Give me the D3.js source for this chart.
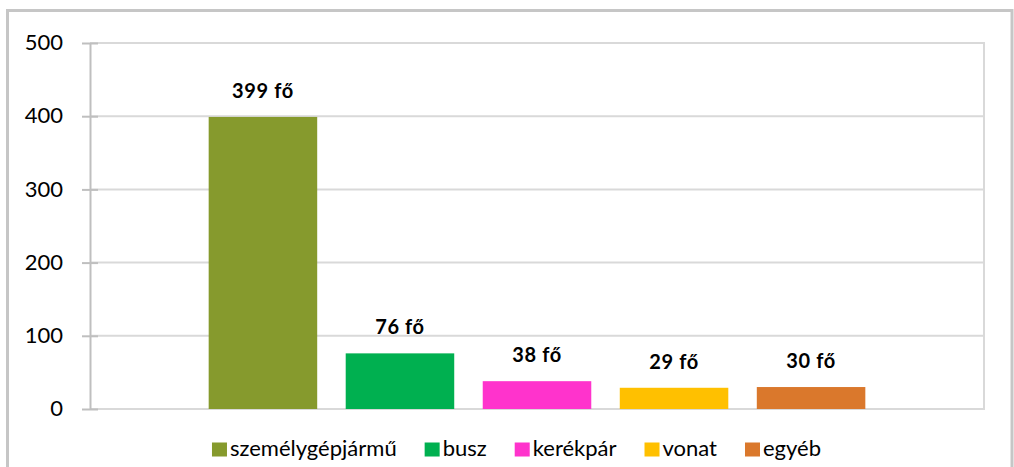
<!DOCTYPE html>
<html lang="hu">
<head>
    <meta charset="UTF-8">
    <title>Közlekedési mód</title>
    <script src="https://d3js.org/d3.v7.min.js"></script>
    <style>
        body { margin: 0; background: #fff; }
        svg { display: block; font-family: Lato, "Open Sans", sans-serif; }
    </style>
</head>
<body>
    <div id="chart"></div>
    <script>
        const modes = ["személygépjármű", "busz", "kerékpár", "vonat", "egyéb"];
        const people = [399, 76, 38, 29, 30];
        const colors = ["#869a2d", "#00b050", "#ff33cc", "#ffc000", "#da782c"];
        const yTicks = [0, 100, 200, 300, 400, 500];

        const width = 1014, height = 467;
        const plot = { left: 90, top: 43, right: 984, bottom: 409 };

        const svg = d3.select("#chart")
            .append("svg")
            .attr("width", width)
            .attr("height", height);

        svg.append("rect")
            .attr("width", width).attr("height", height)
            .attr("fill", "#fff");

        // outer chart border (bottom edge falls outside the picture)
        svg.append("rect")
            .attr("x", 7.5).attr("y", 10.5)
            .attr("width", 1004.5).attr("height", 480)
            .attr("fill", "none")
            .attr("stroke", "#c6c6c6")
            .attr("stroke-width", 3);

        const x = d3.scaleBand()
            .domain(modes)
            .range([plot.left, plot.right])
            .paddingInner(0.208)
            .paddingOuter(0.866);

        const y = d3.scaleLinear()
            .domain([0, 500])
            .range([plot.bottom, plot.top]);

        // gridlines
        svg.append("g")
            .selectAll("line")
            .data(yTicks)
            .join("line")
            .attr("x1", plot.left).attr("x2", plot.right)
            .attr("y1", d => y(d)).attr("y2", d => y(d))
            .attr("stroke", "#d9d9d9")
            .attr("stroke-width", 2);

        // right edge of plot area
        svg.append("line")
            .attr("x1", plot.right).attr("x2", plot.right)
            .attr("y1", plot.top - 1).attr("y2", plot.bottom + 1)
            .attr("stroke", "#d9d9d9")
            .attr("stroke-width", 2);

        // bars
        svg.append("g")
            .selectAll("rect")
            .data(modes)
            .join("rect")
            .attr("x", d => x(d))
            .attr("width", x.bandwidth())
            .attr("y", (d, i) => y(people[i]))
            .attr("height", (d, i) => y(0) - y(people[i]))
            .attr("fill", (d, i) => colors[i]);

        // value labels
        svg.append("g")
            .selectAll("text")
            .data(modes)
            .join("text")
            .attr("x", d => x(d) + x.bandwidth() / 2)
            .attr("y", (d, i) => y(people[i]) - 19)
            .attr("text-anchor", "middle")
            .attr("font-size", 20)
            .attr("font-weight", "bold")
            .attr("letter-spacing", 0.6)
            .attr("fill", "#000")
            .text((d, i) => people[i] + " fő");

        // y axis
        const yAxis = svg.append("g")
            .attr("transform", `translate(${plot.left},0)`)
            .call(d3.axisLeft(y).tickValues(yTicks).tickSize(0).tickPadding(27));
        yAxis.select(".domain")
            .attr("stroke", "#bfbfbf")
            .attr("stroke-width", 2);
        yAxis.selectAll(".tick text")
            .attr("font-size", 22)
            .attr("font-family", "Lato, sans-serif")
            .attr("fill", "#000")
            .attr("dy", "0.3em");
        yAxis.selectAll(".tick")
            .append("line")
            .attr("x1", -8).attr("x2", 8)
            .attr("stroke", "#bfbfbf")
            .attr("stroke-width", 2);

        // legend
        const legend = svg.append("g");
        const items = legend.selectAll("g")
            .data(modes)
            .join("g");
        items.append("rect")
            .attr("y", 442.5)
            .attr("width", 15).attr("height", 14)
            .attr("fill", (d, i) => colors[i]);
        items.append("text")
            .attr("x", 18)
            .attr("y", 456)
            .attr("font-size", 22)
            .attr("fill", "#000")
            .text(d => d);

        const gap = 28;
        let cursor = 0;
        const offsets = [];
        items.each(function() {
            offsets.push(cursor);
            const w = d3.select(this).select("text").node().getComputedTextLength();
            cursor += 18 + w + gap;
        });
        const total = cursor - gap;
        const legendStart = 516.5 - total / 2;
        items.attr("transform", (d, i) => `translate(${legendStart + offsets[i]},0)`);
    </script>
</body>
</html>
